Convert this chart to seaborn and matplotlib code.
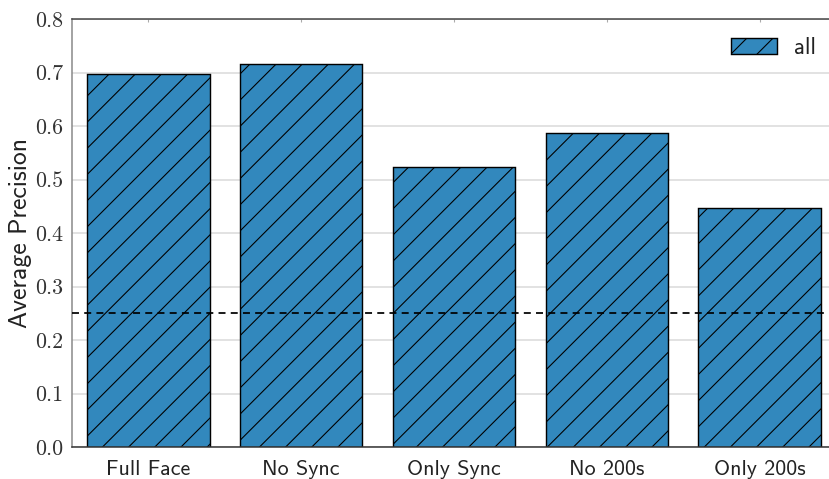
import matplotlib
matplotlib.use("Agg")
import matplotlib.pyplot as plt
import seaborn as sns
import pandas as pd

# Ablation results: average precision per feature set
categories = ["Full Face", "No Sync", "Only Sync", "No 200s", "Only 200s"]
avg_precision = [0.697, 0.716, 0.524, 0.587, 0.447]
chance_level = 0.25
y_ticks = [0.0, 0.1, 0.2, 0.3, 0.4, 0.5, 0.6, 0.7, 0.8]
series_label = "all"

DPI = 157
S = 132 / DPI  # font scale so text keeps its pixel size

sns.set_theme(style="white")
plt.rcParams["hatch.linewidth"] = 0.5
plt.rcParams["font.family"] = ["cmss10", "DejaVu Sans"]
plt.rcParams["axes.formatter.use_mathtext"] = True

fig = plt.figure(figsize=(829 / DPI, 479 / DPI), dpi=DPI)
ax = fig.add_axes([72 / 829, 32 / 479, 764 / 829, 428 / 479])

df = pd.DataFrame({"condition": categories, "ap": avg_precision})
sns.barplot(data=df, x="condition", y="ap", color="#3288bd", saturation=1,
            edgecolor="black", linewidth=0.65, hatch="//", width=0.8,
            label=series_label, ax=ax, zorder=2)

ax.axhline(chance_level, ls=(0, (4, 3)), color="black", lw=0.8, zorder=3)

ax.set_xlim(-0.5, len(categories) - 0.5)
ax.set_ylim(0, 0.8)
ax.set_yticks(y_ticks)
ax.set_yticklabels([f"{t:.1f}" for t in y_ticks], family="cmr10",
                   fontsize=12 * S, color="#333333")
ax.yaxis.grid(True, color="#d9d9d9", lw=0.7, zorder=0)
ax.set_axisbelow(True)
ax.set_xlabel("")
ax.set_ylabel("Average Precision", fontsize=14 * S, color="#222222")
ax.yaxis.set_label_coords(-0.053, 0.5)
ax.tick_params(axis="x", labelsize=12 * S, labelcolor="#222222",
               direction="in", length=1.5, width=0.5, top=True,
               bottom=False, color="#aaaaaa", pad=6)
ax.tick_params(axis="y", length=0, pad=4)

for side in ["left", "top", "bottom"]:
    ax.spines[side].set_visible(True)
    ax.spines[side].set_linewidth(0.7)
ax.spines["left"].set_color("#888888")
ax.spines["top"].set_color("#444444")
ax.spines["bottom"].set_color("#333333")
ax.spines["right"].set_visible(False)

leg = ax.legend(loc="center right", frameon=False, fontsize=12.5 * S,
                handlelength=2.0, handleheight=0.7, handletextpad=0.75,
                borderaxespad=0.0, borderpad=0.0,
                bbox_to_anchor=(0.974, 0.932))
for t in leg.get_texts():
    t.set_color("#222222")

fig.savefig("out.png", dpi=DPI)
